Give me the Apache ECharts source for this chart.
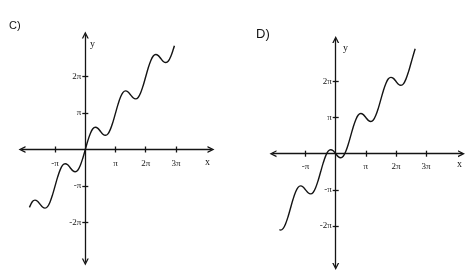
<!DOCTYPE html>
<html>
<head>
<meta charset="utf-8">
<script src="https://cdn.jsdelivr.net/npm/echarts@6/dist/echarts.min.js"></script>
<style>
html,body{margin:0;padding:0;background:#fff;}
#chart{width:470px;height:275px;}
</style>
</head>
<body>
<div id="chart"></div>
<script>
// Values in units of pi
const panelTitles = ['C)', 'D)'];
const xTickValues = [-1, 1, 2, 3];
const xTickLabels = ['-\u03c0', '\u03c0', '2\u03c0', '3\u03c0'];
const yTickValues = [-2, -1, 1, 2];
const yTickLabels = ['-2\u03c0', '-\u03c0', '\u03c0', '2\u03c0'];

const cX = [-1.85, -1.75, -1.667, -1.583, -1.5, -1.417, -1.333, -1.25, -1.167, -1.083,
  -1, -0.917, -0.833, -0.75, -0.667, -0.583, -0.5, -0.417, -0.333, -0.25, -0.167, -0.083,
  0, 0.083, 0.167, 0.25, 0.333, 0.417, 0.5, 0.583, 0.667, 0.75, 0.833, 0.917,
  1, 1.083, 1.167, 1.25, 1.333, 1.417, 1.5, 1.583, 1.667, 1.75, 1.833, 1.917,
  2, 2.083, 2.167, 2.25, 2.333, 2.417, 2.5, 2.583, 2.667, 2.75, 2.833, 2.917, 2.95];
const cY = [-1.59, -1.43, -1.39, -1.42, -1.5, -1.58, -1.61, -1.57, -1.44, -1.24,
  -1, -0.76, -0.56, -0.43, -0.39, -0.42, -0.5, -0.58, -0.61, -0.57, -0.44, -0.24,
  0, 0.24, 0.44, 0.57, 0.61, 0.58, 0.5, 0.42, 0.39, 0.43, 0.56, 0.76,
  1, 1.24, 1.44, 1.57, 1.61, 1.58, 1.5, 1.42, 1.39, 1.43, 1.56, 1.76,
  2, 2.24, 2.44, 2.57, 2.61, 2.58, 2.5, 2.42, 2.39, 2.43, 2.56, 2.76, 2.85];

const dX = [-1.87, -1.833, -1.75, -1.667, -1.583, -1.5, -1.417, -1.333, -1.25, -1.167, -1.083,
  -1, -0.917, -0.833, -0.75, -0.667, -0.583, -0.5, -0.417, -0.333, -0.25, -0.167, -0.083,
  0, 0.083, 0.167, 0.25, 0.333, 0.417, 0.5, 0.583, 0.667, 0.75, 0.833, 0.917,
  1, 1.083, 1.167, 1.25, 1.333, 1.417, 1.5, 1.583, 1.667, 1.75, 1.833, 1.917,
  2, 2.083, 2.167, 2.25, 2.333, 2.417, 2.5, 2.583, 2.64];
const dY = [-2.1, -2.11, -2.07, -1.94, -1.74, -1.5, -1.26, -1.06, -0.93, -0.89, -0.92,
  -1, -1.08, -1.11, -1.07, -0.94, -0.74, -0.5, -0.26, -0.06, 0.07, 0.11, 0.08,
  0, -0.08, -0.11, -0.07, 0.06, 0.26, 0.5, 0.74, 0.94, 1.07, 1.11, 1.08,
  1, 0.92, 0.89, 0.93, 1.06, 1.26, 1.5, 1.74, 1.94, 2.07, 2.11, 2.08,
  2, 1.92, 1.89, 1.93, 2.06, 2.26, 2.5, 2.74, 2.9];

const INK = '#141414';
const SERIF = '"Liberation Serif", "DejaVu Serif", serif';
const chevron = 'path://M5 0 L10 10 L8 10 L5 4 L2 10 L0 10 Z';

function fmtX(v) { const i = xTickValues.indexOf(v); return i >= 0 ? xTickLabels[i] : ''; }
function fmtY(v) { const i = yTickValues.indexOf(v); return i >= 0 ? yTickLabels[i] : ''; }

const panels = [
  { grid: { left: 22, top: 35, width: 189, height: 227 }, xr: [-2.096, 4.162], yr: [-3.091, 3.146], xm: 10,
    title: { left: 9, top: 20, size: 11 } },
  { grid: { left: 273, top: 39.5, width: 188.5, height: 227 }, xr: [-2.083, 4.179], yr: [-3.116, 3.155], xm: 8,
    title: { left: 256, top: 28, size: 13 } }
];

const grids = [], xAxes = [], yAxes = [], titles = [];
panels.forEach((p, g) => {
  grids.push(p.grid);
  titles.push({ text: panelTitles[g], left: p.title.left, top: p.title.top, padding: 0,
    textStyle: { fontSize: p.title.size, fontWeight: 'normal', fontFamily: '"Liberation Sans", Arial, sans-serif', color: INK } });
  // place axes on the zero lines via offset (negative = inward)
  const xOff = -((0 - p.yr[0]) / (p.yr[1] - p.yr[0])) * p.grid.height;
  const yOff = -((0 - p.xr[0]) / (p.xr[1] - p.xr[0])) * p.grid.width;
  xAxes.push({ type: 'value', gridIndex: g, min: p.xr[0], max: p.xr[1], position: 'bottom', offset: xOff,
    axisLine: { show: true, onZero: false, symbol: [chevron, chevron], symbolSize: [8, 7],
      lineStyle: { color: INK, width: 1.3 } },
    axisTick: { show: true, customValues: xTickValues, length: 3, inside: false, lineStyle: { color: INK, width: 1.3 } },
    axisLabel: { show: true, customValues: xTickValues, formatter: fmtX, margin: p.xm, fontFamily: SERIF, fontSize: 9, color: INK },
    splitLine: { show: false } });
  xAxes.push({ type: 'value', gridIndex: g, min: p.xr[0], max: p.xr[1], position: 'bottom', offset: xOff,
    axisLine: { show: false, onZero: false },
    axisTick: { show: true, customValues: xTickValues, length: 3, inside: true, lineStyle: { color: INK, width: 1.3 } },
    axisLabel: { show: false }, splitLine: { show: false } });
  yAxes.push({ type: 'value', gridIndex: g, min: p.yr[0], max: p.yr[1], position: 'left', offset: yOff,
    axisLine: { show: true, onZero: false, symbol: [chevron, chevron], symbolSize: [8, 7],
      lineStyle: { color: INK, width: 1.3 } },
    axisTick: { show: true, customValues: yTickValues, length: 3, inside: false, lineStyle: { color: INK, width: 1.3 } },
    axisLabel: { show: true, customValues: yTickValues, formatter: fmtY, margin: 4, fontFamily: SERIF, fontSize: 9, color: INK },
    splitLine: { show: false } });
  yAxes.push({ type: 'value', gridIndex: g, min: p.yr[0], max: p.yr[1], position: 'left', offset: yOff,
    axisLine: { show: false, onZero: false },
    axisTick: { show: true, customValues: yTickValues, length: 3, inside: true, lineStyle: { color: INK, width: 1.3 } },
    axisLabel: { show: false }, splitLine: { show: false } });
});

function pairs(xs, ys) { return xs.map((x, i) => [x, ys[i]]); }

const chart = echarts.init(document.getElementById('chart'), null, { renderer: 'canvas' });
chart.setOption({
  backgroundColor: '#ffffff',
  animation: false,
  title: titles,
  grid: grids,
  xAxis: xAxes,
  yAxis: yAxes,
  graphic: [
    { type: 'text', left: 90, top: 39, style: { text: 'y', font: '10px "Liberation Serif"', fill: INK } },
    { type: 'text', left: 205, top: 157, style: { text: 'x', font: '10px "Liberation Serif"', fill: INK } },
    { type: 'text', left: 343, top: 43, style: { text: 'y', font: '10px "Liberation Serif"', fill: INK } },
    { type: 'text', left: 457, top: 159, style: { text: 'x', font: '10px "Liberation Serif"', fill: INK } }
  ],
  series: [
    { type: 'line', xAxisIndex: 0, yAxisIndex: 0, data: pairs(cX, cY), smooth: 0.35, showSymbol: false,
      lineStyle: { color: INK, width: 1.4 }, z: 5 },
    { type: 'line', xAxisIndex: 2, yAxisIndex: 2, data: pairs(dX, dY), smooth: 0.35, showSymbol: false,
      lineStyle: { color: INK, width: 1.4 }, z: 5 }
  ]
});
</script>
</body>
</html>
